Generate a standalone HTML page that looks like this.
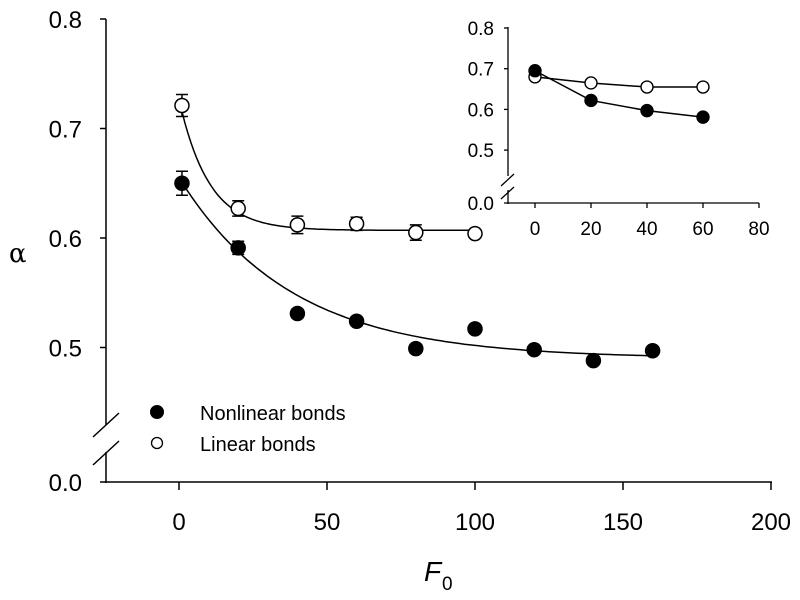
<!DOCTYPE html>
<html><head><meta charset="utf-8"><style>
body{margin:0;background:#fff;}
svg{display:block;font-family:"Liberation Sans",Arial,sans-serif;}
</style></head><body>
<svg id="c" width="800" height="600"></svg>
<script>
const xNonlinear=[1,20,40,60,80,100,120,140,160];
const yNonlinear=[0.650,0.591,0.531,0.524,0.499,0.517,0.498,0.488,0.497];
const errNonlinear=[0.011,0.006,0.004,0.004,0.004,0.004,0.003,0.003,0.003];
const xLinear=[1,20,40,60,80,100];
const yLinear=[0.721,0.627,0.612,0.613,0.605,0.604];
const errLinear=[0.010,0.007,0.008,0.006,0.007,0.003];
const fitNonlinear=[0.49,0.165,38];
const fitLinear=[0.607,0.12,10];
const xTicks=[0,50,100,150,200];
const yTicks=[0.5,0.6,0.7,0.8];
const insetX=[0,20,40,60];
const insetNonlinear=[0.695,0.622,0.597,0.581];
const insetLinear=[0.680,0.665,0.655,0.655];
const insetXTicks=[0,20,40,60,80];
const insetYTicks=[0.5,0.6,0.7,0.8];

const svg=document.getElementById('c');
const NS='http://www.w3.org/2000/svg';
function el(t,a,p){const e=document.createElementNS(NS,t);for(const k in a)e.setAttribute(k,a[k]);(p||svg).appendChild(e);return e;}
const X=v=>179+v*2.96;
const Y=v=>19+(0.8-v)*1095;
const IX=v=>535+v*2.8;
const IY=v=>28+(0.8-v)*407;

// main axes
let g=el('g',{});


el('line',{x1:106,y1:19,x2:106,y2:425,stroke:'#000','stroke-width':1.5},g);
el('line',{x1:106,y1:452,x2:106,y2:483,stroke:'#000','stroke-width':1.5},g);
el('line',{x1:93,y1:437,x2:119,y2:413,stroke:'#000','stroke-width':1.5},g);
el('line',{x1:93,y1:465,x2:119,y2:441,stroke:'#000','stroke-width':1.5},g);
el('line',{x1:100,y1:482,x2:772,y2:482,stroke:'#000','stroke-width':1.5},g);
let t=el('text',{x:82,y:491,'font-size':24,'text-anchor':'end'},g);t.textContent='0.0';


yTicks.forEach(v=>{
  el('line',{x1:100,y1:Y(v),x2:106,y2:Y(v),stroke:'#000','stroke-width':1.5},g);
  const tt=el('text',{x:82,y:Y(v)+9,'font-size':24,'text-anchor':'end'},g);
  tt.textContent=v.toFixed(1);
  
  
});
xTicks.forEach(v=>{
  el('line',{x1:X(v),y1:482,x2:X(v),y2:490,stroke:'#000','stroke-width':1.5},g);
  const tt=el('text',{x:X(v),y:530,'font-size':24,'text-anchor':'middle'},g);
  tt.textContent=v;
  
  
});
t=el('text',{x:424,y:581,'font-size':28,'font-style':'italic'});t.textContent='F';


t=el('text',{x:442,y:590,'font-size':19});t.textContent='0';


t=el('text',{x:9,y:262,'font-size':26,'font-family':'DejaVu Serif,serif'});t.textContent='α';



// fits
function fitPath(p,x0,x1,sx,sy){let d='';for(let i=0;i<=100;i++){const x=x0+(x1-x0)*i/100;const y=p[0]+p[1]*Math.exp(-x/p[2]);d+=(i?'L':'M')+sx(x).toFixed(1)+','+sy(y).toFixed(1);}return d;}
let f=el('path',{d:fitPath(fitNonlinear,1,160,X,Y),fill:'none',stroke:'#000','stroke-width':1.5});


f=el('path',{d:fitPath(fitLinear,1,102,X,Y),fill:'none',stroke:'#000','stroke-width':1.5});



function points(xs,ys,es,filled,name){
  xs.forEach((x,i)=>{
    const cx=X(x),cy=Y(ys[i]),e=es[i]*1095;
    const eb=el('path',{d:`M${cx},${cy-e}V${cy+e}M${cx-6},${cy-e}H${cx+6}M${cx-6},${cy+e}H${cx+6}`,stroke:'#000','stroke-width':1.5,fill:'none'});
    
    
    const c=el('circle',{cx:cx,cy:cy,r:7,fill:filled?'#000':'#fff',stroke:'#000','stroke-width':1.5});
    
    
  });
}
points(xLinear,yLinear,errLinear,false,'point-linear');
points(xNonlinear,yNonlinear,errNonlinear,true,'point-nonlinear');

// legend
let lg=el('g',{});


el('circle',{cx:157,cy:412,r:6.5,fill:'#000',stroke:'#000'},lg);
el('circle',{cx:157,cy:443,r:5.5,fill:'#fff',stroke:'#000','stroke-width':1.3},lg);
t=el('text',{x:200,y:420,'font-size':20},lg);t.textContent='Nonlinear bonds';


t=el('text',{x:200,y:451,'font-size':20},lg);t.textContent='Linear bonds';



// inset
let ig=el('g',{});


el('line',{x1:508,y1:27,x2:508,y2:176,stroke:'#000','stroke-width':1.3},ig);
el('line',{x1:508,y1:190,x2:508,y2:204,stroke:'#000','stroke-width':1.3},ig);
el('line',{x1:501,y1:186,x2:514,y2:174,stroke:'#000','stroke-width':1.3},ig);
el('line',{x1:501,y1:199,x2:514,y2:187,stroke:'#000','stroke-width':1.3},ig);
el('line',{x1:504,y1:203,x2:759,y2:203,stroke:'#000','stroke-width':1.3},ig);
t=el('text',{x:494,y:210,'font-size':19,'text-anchor':'end'},ig);t.textContent='0.0';


insetYTicks.forEach(v=>{
  el('line',{x1:504,y1:IY(v),x2:508,y2:IY(v),stroke:'#000','stroke-width':1.3},ig);
  const tt=el('text',{x:494,y:IY(v)+7,'font-size':19,'text-anchor':'end'},ig);
  tt.textContent=v.toFixed(1);
  
  
});
insetXTicks.forEach(v=>{
  el('line',{x1:IX(v),y1:203,x2:IX(v),y2:208,stroke:'#000','stroke-width':1.3},ig);
  const tt=el('text',{x:IX(v),y:235,'font-size':19,'text-anchor':'middle'},ig);
  tt.textContent=v;
  
  
});
function iline(ys,filled,name){
  let p=el('polyline',{points:insetX.map((x,i)=>IX(x)+','+IY(ys[i])).join(' '),fill:'none',stroke:'#000','stroke-width':1.5},ig);
  
  
  insetX.forEach((x,i)=>{
    const c=el('circle',{cx:IX(x),cy:IY(ys[i]),r:6,fill:filled?'#000':'#fff',stroke:'#000','stroke-width':1.4},ig);
    
    
  });
}
iline(insetLinear,false,'inset-linear');
iline(insetNonlinear,true,'inset-nonlinear');
</script>
</body></html>
